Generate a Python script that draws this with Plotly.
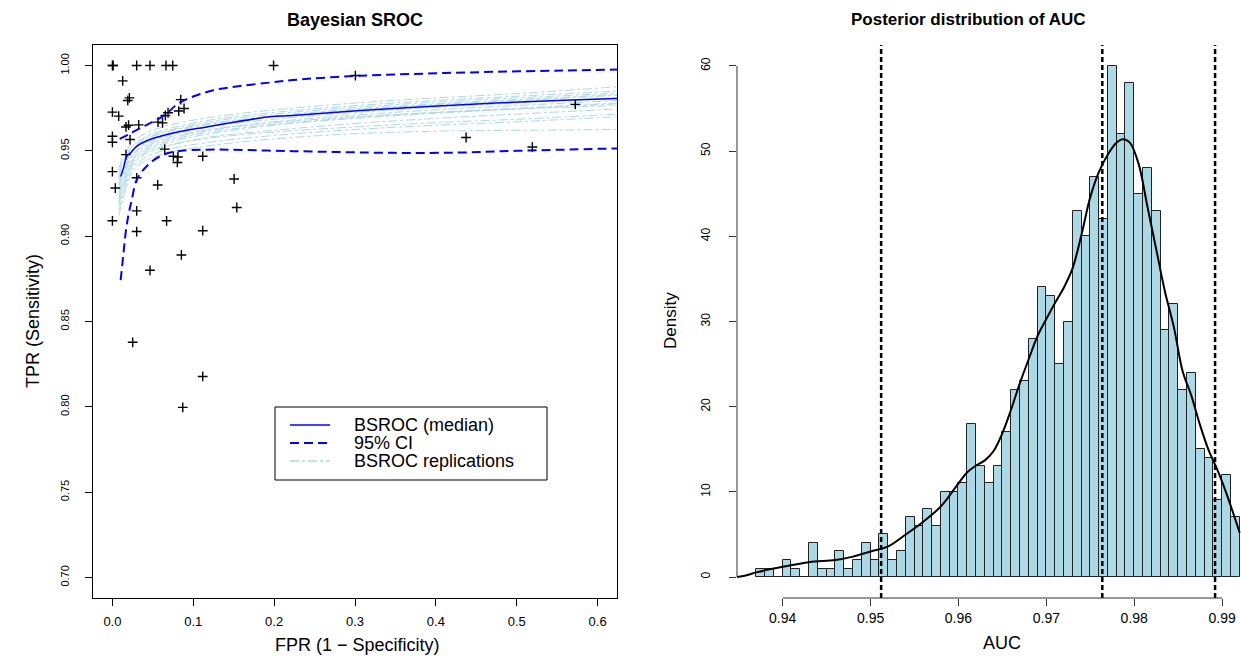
import plotly.graph_objects as go

# ---------------- data: left panel (Bayesian SROC) ----------------
study_fpr = [0.000, 0.001, 0.030, 0.0465, 0.0663, 0.0746, 0.0127, 0.021, 0.019, 0.0845,
             0.000, 0.0078, 0.0886, 0.082, 0.0688, 0.0655, 0.0168, 0.020, 0.0325, 0.0564,
             0.062, 0.000, 0.000, 0.0218, 0.0647, 0.0168, 0.0754, 0.081, 0.0803, 0.1117,
             0.000, 0.030, 0.0036, 0.056, 0.1505, 0.1538, 0.030, 0.000, 0.067, 0.030,
             0.1117, 0.0853, 0.0465, 0.0251, 0.1117, 0.087, 0.1993, 0.3005, 0.4374, 0.5193,
             0.5724]
study_tpr = [1.000, 1.000, 1.000, 1.000, 1.000, 1.000, 0.991, 0.981, 0.9795, 0.980,
             0.9727, 0.9703, 0.9748, 0.9733, 0.9723, 0.9707, 0.964, 0.965, 0.9652, 0.9668,
             0.9664, 0.9585, 0.955, 0.9566, 0.951, 0.9478, 0.9468, 0.9464, 0.9432, 0.9468,
             0.9378, 0.9342, 0.9282, 0.9300, 0.9335, 0.9168, 0.9148, 0.909, 0.909, 0.9027,
             0.9032, 0.889, 0.880, 0.8378, 0.8178, 0.7997, 1.000, 0.9941, 0.9578, 0.9522,
             0.9772]

median_fpr = [0.0102, 0.0135, 0.0177, 0.0225, 0.030, 0.0465, 0.0754, 0.1167, 0.195,
              0.2232, 0.3069, 0.3905, 0.4741, 0.5578, 0.624]
median_tpr = [0.9350, 0.9395, 0.9468, 0.9488, 0.9526, 0.9566, 0.9605, 0.9640, 0.9700,
              0.9707, 0.9736, 0.9760, 0.9780, 0.9796, 0.9807]

ci_upper_fpr = [0.009, 0.020, 0.035, 0.050, 0.065, 0.080, 0.096, 0.125, 0.158, 0.195,
                0.2232, 0.3069, 0.3905, 0.4741, 0.5578, 0.624]
ci_upper_tpr = [0.9570, 0.9595, 0.9635, 0.9670, 0.9710, 0.9772, 0.9811, 0.9855, 0.9880, 0.9900,
                0.9915, 0.9940, 0.9953, 0.9963, 0.9970, 0.9976]

ci_lower_fpr = [0.0102, 0.0135, 0.0168, 0.0205, 0.0239, 0.030, 0.0424, 0.0589, 0.0795, 0.1167,
                0.2232, 0.3487, 0.4323, 0.500, 0.624]
ci_lower_tpr = [0.8742, 0.8890, 0.9036, 0.9140, 0.9210, 0.9330, 0.9410, 0.9468, 0.9497, 0.9507,
                0.9498, 0.9488, 0.9490, 0.9500, 0.9514]

rep_fpr = [0.008, 0.015, 0.025, 0.040, 0.070, 0.120, 0.200, 0.300, 0.400, 0.500, 0.624]
rep_tpr = [
    [0.940, 0.948, 0.955, 0.960, 0.965, 0.9695, 0.974, 0.978, 0.981, 0.9835, 0.9875],
    [0.938, 0.946, 0.953, 0.958, 0.963, 0.968, 0.9725, 0.9765, 0.9795, 0.982, 0.985],
    [0.936, 0.944, 0.952, 0.957, 0.962, 0.967, 0.9715, 0.9755, 0.9785, 0.981, 0.9838],
    [0.932, 0.941, 0.950, 0.9555, 0.9605, 0.9655, 0.970, 0.974, 0.977, 0.9795, 0.9825],
    [0.929, 0.939, 0.948, 0.954, 0.959, 0.964, 0.9685, 0.9725, 0.9755, 0.978, 0.981],
    [0.926, 0.936, 0.946, 0.952, 0.957, 0.962, 0.967, 0.971, 0.974, 0.9765, 0.9795],
    [0.922, 0.933, 0.944, 0.950, 0.955, 0.960, 0.965, 0.969, 0.972, 0.9745, 0.9775],
    [0.918, 0.930, 0.942, 0.948, 0.953, 0.958, 0.962, 0.966, 0.969, 0.9715, 0.9745],
    [0.915, 0.927, 0.940, 0.946, 0.951, 0.955, 0.959, 0.9625, 0.965, 0.967, 0.970],
    [0.920, 0.931, 0.943, 0.949, 0.9535, 0.9575, 0.961, 0.964, 0.9665, 0.9685, 0.9715],
    [0.924, 0.935, 0.945, 0.951, 0.956, 0.961, 0.9655, 0.9695, 0.9725, 0.975, 0.978],
    [0.934, 0.943, 0.951, 0.9565, 0.9615, 0.966, 0.9705, 0.9745, 0.9775, 0.980, 0.983],
    [0.930, 0.938, 0.9475, 0.953, 0.958, 0.9625, 0.9665, 0.970, 0.9725, 0.9745, 0.9765],
    [0.912, 0.925, 0.938, 0.944, 0.949, 0.953, 0.957, 0.960, 0.9615, 0.962, 0.9625],
]

sroc_xticks = [0.0, 0.1, 0.2, 0.3, 0.4, 0.5, 0.6]
sroc_xticklabels = ["0.0", "0.1", "0.2", "0.3", "0.4", "0.5", "0.6"]
sroc_yticks = [0.70, 0.75, 0.80, 0.85, 0.90, 0.95, 1.00]
sroc_yticklabels = ["0.70", "0.75", "0.80", "0.85", "0.90", "0.95", "1.00"]
legend_labels = ["BSROC (median)", "95% CI", "BSROC replications"]

# ---------------- data: right panel (posterior of AUC) ----------------
auc_bin_left = [0.937 + 0.001 * i for i in range(55)]
auc_bin_width = 0.001
auc_density = [1, 1, 0, 2, 1, 0, 4, 1, 1, 3,
               1, 2, 4, 2, 5, 2, 3, 7, 6, 8,
               6, 10, 10, 11, 18, 13, 11, 13, 17, 22,
               23, 28, 34, 33, 25, 30, 43, 40, 47, 42,
               60, 52, 58, 45, 48, 43, 29, 32, 22, 24,
               15, 14, 9, 12, 7]

kde_x = [0.9348, 0.9360, 0.9370, 0.9400, 0.9430, 0.9460, 0.9480, 0.9500, 0.9520, 0.9540,
         0.9560, 0.9580, 0.9600, 0.9610, 0.9620, 0.9630, 0.9640, 0.9650, 0.9660, 0.9670,
         0.9680, 0.9690, 0.9700, 0.9710, 0.9720, 0.9730, 0.9740, 0.9750, 0.9760, 0.9770,
         0.9780, 0.9787, 0.9795, 0.9805, 0.9815, 0.9825, 0.9835, 0.9845, 0.9855, 0.9865,
         0.9875, 0.9885, 0.9895, 0.9905, 0.9920]
kde_y = [0.0, 0.25, 0.55, 1.2, 1.75, 2.0, 2.4, 3.0, 3.6, 5.0,
         6.5, 8.3, 11.0, 12.3, 13.1, 13.7, 14.8, 16.9, 19.7, 22.8,
         25.6, 28.3, 30.3, 32.2, 34.0, 36.3, 40.2, 44.6, 47.6, 49.6,
         51.0, 51.4, 51.0, 48.5, 43.5, 38.5, 33.5, 29.4, 24.2, 21.3,
         17.8, 14.8, 12.5, 9.8, 5.2]

auc_quantiles = [0.9512, 0.97637, 0.9892]   # 2.5%, median, 97.5%

auc_xticks = [0.94, 0.95, 0.96, 0.97, 0.98, 0.99]
auc_xticklabels = ["0.94", "0.95", "0.96", "0.97", "0.98", "0.99"]
auc_yticks = [0, 10, 20, 30, 40, 50, 60]
auc_yticklabels = ["0", "10", "20", "30", "40", "50", "60"]

# ---------------- layout helpers ----------------
W, H = 1241, 658
FONT = "Liberation Sans, Arial, Helvetica, sans-serif"


def px(x):
    return x / W


def py(y):
    return 1 - y / H


L_DOM = [px(93), px(617)]
R_DOM = [px(737), px(1241)]
Y_DOM = [py(598), py(45)]

BLUE = "#0000FF"
LIGHTBLUE = "#ADD8E6"

fig = go.Figure()

# replications
for r in rep_tpr:
    fig.add_trace(go.Scatter(x=rep_fpr, y=r, mode="lines",
                             line=dict(color=LIGHTBLUE, width=1, dash="dashdot", shape="spline"),
                             showlegend=False, hoverinfo="skip", xaxis="x", yaxis="y"))
# study points
fig.add_trace(go.Scatter(x=study_fpr, y=study_tpr, mode="markers",
                         marker=dict(symbol="cross-thin", size=7, line=dict(color="black", width=1.4)),
                         showlegend=False, xaxis="x", yaxis="y"))
# CIs
fig.add_trace(go.Scatter(x=ci_upper_fpr, y=ci_upper_tpr, mode="lines",
                         line=dict(color=BLUE, width=2, dash="9px,5px", shape="spline"), showlegend=False,
                         xaxis="x", yaxis="y"))
fig.add_trace(go.Scatter(x=ci_lower_fpr, y=ci_lower_tpr, mode="lines",
                         line=dict(color=BLUE, width=2, dash="9px,5px", shape="spline"), showlegend=False,
                         xaxis="x", yaxis="y"))
# median
fig.add_trace(go.Scatter(x=median_fpr, y=median_tpr, mode="lines",
                         line=dict(color=BLUE, width=1.5, shape="spline"), showlegend=False,
                         xaxis="x", yaxis="y"))

# histogram
fig.add_trace(go.Bar(x=auc_bin_left, y=auc_density, offset=0, width=auc_bin_width,
                     marker=dict(color=LIGHTBLUE, line=dict(color="#222222", width=1)),
                     showlegend=False, xaxis="x2", yaxis="y2"))
# density curve
fig.add_trace(go.Scatter(x=kde_x, y=kde_y, mode="lines", line=dict(color="black", width=2, shape="spline"),
                         showlegend=False, xaxis="x2", yaxis="y2"))

shapes = []
for q in auc_quantiles:
    shapes.append(dict(type="line", xref="x2", yref="paper", x0=q, x1=q, y0=Y_DOM[0], y1=Y_DOM[1],
                       line=dict(color="black", width=2.5, dash="5px,3px")))
# R-style axis lines for the histogram (span first..last tick)
shapes.append(dict(type="line", xref="x2", yref="paper", x0=auc_xticks[0], x1=auc_xticks[-1],
                   y0=Y_DOM[0], y1=Y_DOM[0], line=dict(color="#333333", width=1)))
shapes.append(dict(type="line", xref="paper", yref="y2", x0=R_DOM[0], x1=R_DOM[0],
                   y0=auc_yticks[0], y1=auc_yticks[-1], line=dict(color="#333333", width=1)))

# manual legend (R style box)
shapes.append(dict(type="rect", xref="paper", yref="paper", x0=px(275), x1=px(547), y0=py(480), y1=py(407),
                   line=dict(color="black", width=1), fillcolor="white"))
legend_styles = [dict(color=BLUE, width=1.5, dash="solid"),
                 dict(color=BLUE, width=2, dash="9px,5px"),
                 dict(color=LIGHTBLUE, width=1.5, dash="dashdot")]
annotations = []
for i, (lab, st) in enumerate(zip(legend_labels, legend_styles)):
    yy = 425 + 18 * i
    shapes.append(dict(type="line", xref="paper", yref="paper", x0=px(290), x1=px(330), y0=py(yy), y1=py(yy),
                       line=st))
    annotations.append(dict(text=lab, xref="paper", yref="paper", x=px(352), y=py(yy), xanchor="left",
                            yanchor="middle", showarrow=False, font=dict(size=18, color="black", family=FONT)))


def label(text, x, y, size, angle=0):
    return dict(text=text, x=px(x), y=py(y), xref="paper", yref="paper", showarrow=False,
                xanchor="center", yanchor="middle", textangle=angle,
                font=dict(size=size, family=FONT, color="black"))


annotations += [
    label("<b>Bayesian SROC</b>", 355, 20, 18),
    label("<b>Posterior distribution of AUC</b>", 968, 20, 17),
    label("FPR (1 \u2212 Specificity)", 357, 645, 18),
    label("AUC", 1002, 643, 18),
    label("TPR (Sensitivity)", 33, 321, 18, -90),
    label("Density", 670, 321, 17, -90),
]

fig.update_layout(
    width=W, height=H,
    margin=dict(l=0, r=0, t=0, b=0),
    paper_bgcolor="white", plot_bgcolor="white",
    font=dict(family=FONT, color="black"),
    showlegend=False,
    bargap=0,
    shapes=shapes,
    annotations=annotations,
    xaxis=dict(domain=L_DOM, anchor="y", range=[-0.024, 0.624], tickvals=sroc_xticks, ticktext=sroc_xticklabels,
               ticks="outside", ticklen=7, tickcolor="black", showline=True, mirror=True, linecolor="black",
               linewidth=1, showgrid=False, zeroline=False, tickfont=dict(size=13), ticklabelstandoff=4),
    yaxis=dict(domain=Y_DOM, anchor="x", range=[0.688, 1.012], tickvals=sroc_yticks, ticktext=sroc_yticklabels,
               ticks="outside", ticklen=7, tickcolor="black", showline=True, mirror=True, linecolor="black",
               linewidth=1, showgrid=False, zeroline=False, tickangle=-90, tickfont=dict(size=11),
               ticklabelstandoff=12),
    xaxis2=dict(domain=R_DOM, anchor="y2", range=[0.9348, 0.99215], tickvals=auc_xticks, ticktext=auc_xticklabels,
                ticks="outside", ticklen=7, tickcolor="#333333", showline=False, showgrid=False, zeroline=False,
                tickfont=dict(size=14)),
    yaxis2=dict(domain=Y_DOM, anchor="x2", range=[-2.46, 62.46], tickvals=auc_yticks, ticktext=auc_yticklabels,
                ticks="outside", ticklen=7, tickcolor="#333333", showline=False, showgrid=False, zeroline=False,
                tickangle=-90, tickfont=dict(size=12), ticklabelstandoff=14),
)

# remove the browser's default 8px body margin so the figure sits at the page origin
fig.write_html("out.html", config={"displayModeBar": False},
               post_script="document.body.style.margin='0px';")
